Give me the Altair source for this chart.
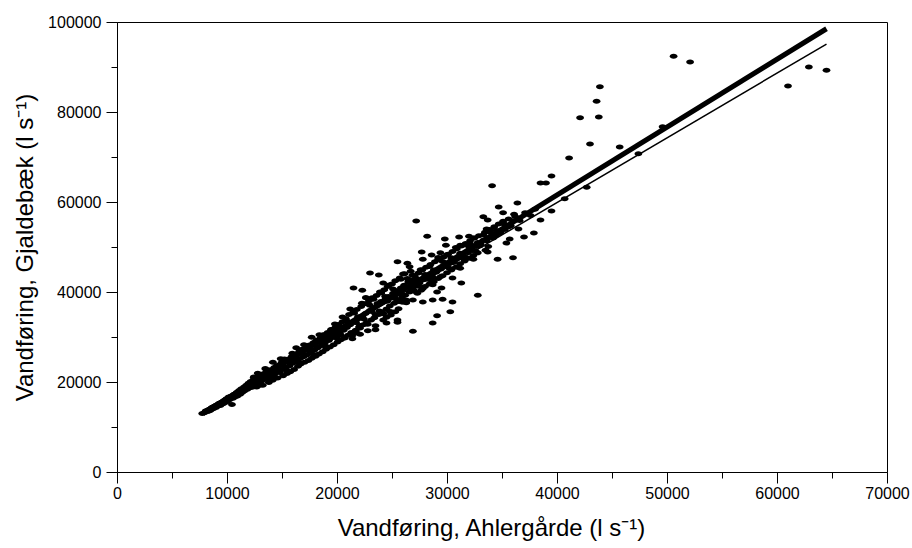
import altair as alt
import pandas as pd

# ---- scatter data ----
band_low = [(7750,13000),(7950,13150),(8100,13600),(8250,13450),(8350,13900),(8500,13750),(8600,14300),
            (8750,14050),(8850,14600),(9000,14350),(9050,14900),(9200,14700),(9300,15250),(9400,14800),
            (9550,15500),(9650,15150),(9750,15900),(9850,15450),(9950,16300),(10050,15750),(10150,16650),
            (10250,16100),(10400,16900),(10450,15000),(10550,16400),(10650,17300),(10750,16750),(10900,17700),
            (10950,16900),(11100,18100),(11200,17300),(11300,18500),(11400,17700),(11550,18900),(11600,18050),
            (11750,19300),(11850,18400),(11950,19700),(12050,18700),
            (8050,13500),(8400,13600),(8700,14400),(9100,14600),(9500,15400),(9900,15800),(10300,16500),
            (10700,17200),(11050,17500),(11450,18200),(11800,18800)]

band_mid = [(12150,20100),(12250,19100),(12400,20500),(12500,19400),(12600,20900),(12700,18900),(12850,21200),
            (12900,19800),(13050,21600),(13150,20200),(13250,19300),(13400,21900),(13500,20600),(13600,22400),
            (13750,21100),(13800,19900),(13950,22700),(14050,21400),(14150,20400),(14300,23200),(14350,21800),
            (14500,22300),(14600,20900),(14700,23700),(14800,22100),(14950,24300),(15050,22800),(15100,21400),
            (15300,24600),(15350,23300),(15450,21900),(15600,25100),(15700,23600),(15750,22300),(15900,25700),
            (16000,24200),(16100,22800),(16250,26100),(16300,24600),(16450,23500),(16550,26700),(16650,25200),
            (16700,24000),(16850,27300),(16950,25600),(17050,24400),(17200,27600),(17300,26100),(17400,24800),
            (17500,28200),(17600,26600),(17700,25300),(17850,28700),(17950,27100),(18050,25700),(18150,29300),
            (18250,27600),(18350,26200),(18500,29800),(18600,28100),(18700,26700),(18800,30500),(18900,28700),
            (19000,27300),(19150,31000),(19250,29200),(19350,27800),(19500,31600),(19600,29900),(19700,28300),
            (19850,32100),(19900,30400),(20050,28900)]

band_mid_fill = [(12100,19780),(12280,18860),(12430,21080),(12610,19850),(12790,21920),(12950,19270),
                 (13130,21740),(13300,21090),(13480,22970),(13660,20640),(13820,22180),(14000,21650),
                 (14170,24410),(14350,20980),(14520,23630),(14700,22410),(14880,25180),(15060,23650),
                 (15230,25100),(15410,22680),(15590,25050),(15760,24100),(15940,26380),(16110,25130),
                 (16290,27600),(16470,24470),(16640,27030),(16820,26400),(17000,28270),(17170,25930),
                 (17350,27500),(17520,26960),(17700,29930),(17880,26100),(18050,28960),(18230,27730),
                 (18400,30480),(18580,28960),(18760,30430),(18930,27980),(19110,30360),(19290,29430),
                 (19460,31680),(19640,30450),(19810,32910),(19990,29780)]

band_upper = [(20150,32800),(20250,30900),(20350,29400),(20500,33400),(20600,31500),(20700,29800),(20800,34100),
              (20900,32100),(21000,30400),(21100,35000),(21200,32700),(21300,31000),(21400,29600),(21500,35600),
              (21600,33300),(21700,31500),(21800,36100),(21900,34000),(22000,32200),(22100,30600),(22200,36800),
              (22300,34600),(22400,32700),(22500,37400),(22600,35200),(22700,33200),(22800,31400),(22900,38000),
              (23000,35900),(23100,33800),(23200,38700),(23300,36500),(23400,34300),(23500,32500),(23600,39200),
              (23700,37200),(23800,35000),(23900,40000),(24000,37900),(24100,35600),(24200,33800),(24300,40500),
              (24400,38400),(24500,36200),(24600,41200),(24700,39000),(24800,36900),(24900,34900),(25000,41800),
              (25100,39700),(25200,37500),(25300,42500),(25400,40300),(25500,38100),(25600,36300),(25700,43100),
              (25800,40900),(25900,38700),(26000,44000),(26100,41500),(26200,39300),(26300,37600),(26400,43000),
              (26500,42100),(26600,40000),(26700,44600),(26800,42600),(26900,40600)]

band_upper_fill = [(20150,32120),(20320,30480),(20500,34450),(20680,29820),(20850,33680),(21030,32650),
                   (21200,36210),(21380,30280),(21560,35350),(21730,33210),(21910,34480),(22090,32550),
                   (22260,37510),(22440,33980),(22620,38750),(22790,32810),(22970,37080),(23150,35650),
                   (23320,38400),(23500,34980),(23680,37450),(23850,35800),(24030,39780),(24210,35150),
                   (24380,39000),(24560,37970),(24740,41550),(24910,35600),(25090,40670),(25270,38550),
                   (25440,39800),(25620,37870),(25800,42850),(25970,39300),(26150,44070),(26330,38140),
                   (26500,42400),(26680,40970),(26860,43740),(27000,40250)]

band_top = [(27050,43600),(27150,41400),(27300,39700),(27400,44200),(27500,42000),(27650,40400),(27750,44900),
            (27850,42700),(28000,41200),(28100,45500),(28250,43300),(28400,41800),(28500,46100),(28650,43900),
            (28800,42300),(28900,46700),(29050,44500),(29200,43000),(29300,47200),(29450,45100),(29600,43600),
            (29700,47800),(29850,45800),(30000,44300),(30100,48400),(30250,46400),(30400,44900),(30500,49000),
            (30650,47000),(30800,45500),(30900,49600),(31050,47600),(31200,46300),(31300,50200),(31450,48200),
            (31600,46900),(31700,50800),(31850,48800),(32000,47500),(32100,51400),(32250,49400),(32400,48100),
            (32500,52000),(32650,50100),(32800,48700),(32900,52500),(33050,50700),(33300,51500),(33450,53300),
            (33600,51600),(33750,50100),(33900,53900),(34050,52100),(34300,54500),(34450,52600),(34700,55100),
            (34850,53300),(35100,55700),(35250,53900),(35600,56200),(35800,54700),(36200,56800),(36600,55900),
            (37100,57600),(37600,57000),(38000,58400)]

band_top_fill = [(27200,43050),(27400,41260),(27600,44960),(27800,40760),(28000,43860),(28200,42860),
                 (28400,45660),(28600,42570),(28800,44870),(29000,44370),(29200,47670),(29400,43370),
                 (29600,46770),(29800,45880),(30000,48280),(30200,45280),(30400,47580),(30600,46580),
                 (30800,49880),(31000,45590),(31200,48590),(31400,47590),(31600,50490),(31800,47490),
                 (32000,50090),(32200,49400),(32400,52000),(32600,49100),(32800,51000),(33000,50300),
                 (33300,52650),(33600,51400),(33900,53260),(34200,52010),(34500,53660),(34800,53120),
                 (35200,55120),(35600,54520),(36000,55830)]

scatter_out = [(50600,92400),(52100,91100),(62900,90000),(64500,89300),(61000,85800),(43900,85600),(43600,82400),
               (43800,78900),(42100,78700),(43000,72900),(45700,72200),(47400,70700),(49600,76700),(41100,69800),
               (39500,65800),(38500,64200),(39000,64200),(42700,63300),(40700,60700),(34100,63600),(39500,58000),
               (38500,56000),(37900,53100),(37000,52200),(36400,59800),(36100,57300),(35100,57600),(34700,58900),
               (36500,54000),(35700,51800),(35400,50900),(33700,56000),(33300,56700),(33600,54000),(36000,47600),
               (34600,47300),(33700,48900),(32800,39300),(28200,52400),(29800,51800),(31100,52200),(32000,52400),
               (29900,50400),(31200,50400),(27700,48900),(25500,46700),(26400,46400),(23000,44200),(23800,43800),
               (21500,40900),(22300,40400),(24200,42000),(26900,31300),(28700,33100),(29100,34700),(30300,35600),
               (31300,42000),(30500,37800),(29600,38400),(28700,38200),(27800,37800),(26900,38200),(26000,37800),
               (25500,33800),(24500,33100),(23500,31600),(25300,35600),(32400,47300),(29100,40000),(28700,41600),
               (27200,55800),(32100,50700),(33500,49300),(28600,48200),(29400,48700),(27800,47300),(29200,47300),
               (30500,46700),(31600,47300),(26600,45600),(31200,45300),(30500,43100),(28700,43300),(27800,42700),
               (29500,40900),(24800,35600),(24500,34400),(21800,30900),(22100,32000),(25900,37800),(25500,33300)]

# ---- fitted lines ----
thick_x = [7800, 64500]
thick_y = [13000, 98500]
thin_x = [7800, 64500]
thin_y = [13600, 95100]

# ---- axis ticks ----
x_major = [0, 10000, 20000, 30000, 40000, 50000, 60000, 70000]
x_minor = [5000, 15000, 25000, 35000, 45000, 55000, 65000]
y_major = [0, 20000, 40000, 60000, 80000, 100000]
y_minor = [10000, 30000, 50000, 70000, 90000]

pts = (band_low + band_mid + band_mid_fill + band_upper + band_upper_fill
       + band_top + band_top_fill + scatter_out)
df_pts = pd.DataFrame(pts, columns=["x", "y"])
df_thick = pd.DataFrame({"x": thick_x, "y": thick_y})
df_thin = pd.DataFrame({"x": thin_x, "y": thin_y})

FONT = "Liberation Sans"
ELLIPSE = "M -1 0 A 1 0.65 0 1 0 1 0 A 1 0.65 0 1 0 -1 0 Z"
xs = alt.Scale(domain=[0, 70000], nice=False, zero=False)
ys = alt.Scale(domain=[0, 100000], nice=False, zero=False)

x_main = alt.Axis(values=x_major, format="d", tickSize=11, labelPadding=2, labelFontSize=16,
                  labelFont=FONT, labelColor="black", title="Vandføring, Ahlergårde (l s⁻¹)",
                  titleFont=FONT, titleFontSize=24, titleFontWeight="normal", titleColor="black",
                  titlePadding=15, titleX=374, domainColor="black", tickColor="black", grid=False,
                  orient="bottom", labelFlush=False, labelOverlap=False)
y_main = alt.Axis(values=y_major, format="d", tickSize=11, labelPadding=5, labelFontSize=16,
                  labelFont=FONT, labelColor="black", title="Vandføring, Gjaldebæk (l s⁻¹)",
                  titleFont=FONT, titleFontSize=24, titleFontWeight="normal", titleColor="black",
                  titlePadding=10, domainColor="black", tickColor="black", grid=False, orient="left",
                  labelFlush=False, labelOverlap=False)
x_min_ax = alt.Axis(values=x_minor, tickSize=6, labels=False, domain=False, title=None,
                    tickColor="black", grid=False, orient="bottom")
y_min_ax = alt.Axis(values=y_minor, tickSize=6, labels=False, domain=False, title=None,
                    tickColor="black", grid=False, orient="left")

points = alt.Chart(df_pts).mark_point(shape=ELLIPSE, size=60, filled=True, color="black",
                                      opacity=1, strokeWidth=0).encode(
    x=alt.X("x:Q", scale=xs, axis=x_main),
    y=alt.Y("y:Q", scale=ys, axis=y_main),
)
thick = alt.Chart(df_thick).mark_line(color="black", strokeWidth=5).encode(
    x=alt.X("x:Q", scale=xs, axis=x_min_ax),
    y=alt.Y("y:Q", scale=ys, axis=y_min_ax),
)
thin = alt.Chart(df_thin).mark_line(color="black", strokeWidth=1.5).encode(
    x=alt.X("x:Q", scale=xs, axis=None),
    y=alt.Y("y:Q", scale=ys, axis=None),
)

chart = alt.layer(points, thick, thin).resolve_axis(x="independent", y="independent").properties(
    width=770, height=450,
    autosize=alt.AutoSizeParams(type="none"),
    padding={"left": 117, "top": 22, "right": 25, "bottom": 76},
    background="white",
).configure_view(stroke="black", strokeWidth=1)

chart.save("out.html", embed_options={"renderer": "svg", "actions": False})
